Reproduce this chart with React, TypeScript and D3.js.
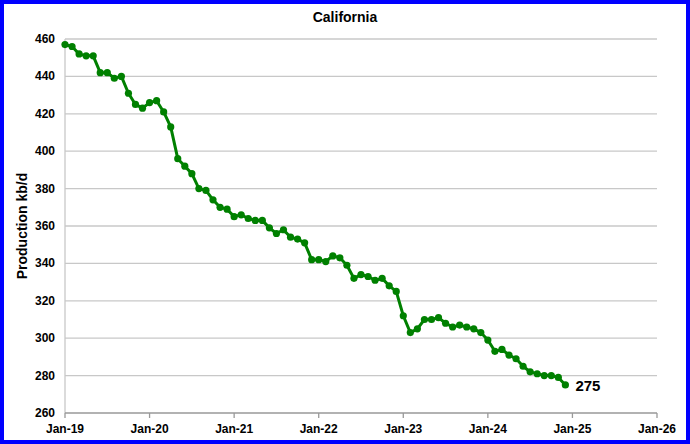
import React from "react";
import * as d3 from "d3";

const startYear = 2019;
const production: number[] = [
  457, 456, 452, 451, 451, 442, 442, 439, 440, 431, 425, 423,
  426, 427, 421, 413, 396, 392, 388, 380, 379, 374, 370, 369,
  365, 366, 364, 363, 363, 359, 356, 358, 354, 353, 351, 342,
  342, 341, 344, 343, 339, 332, 334, 333, 331, 332, 328, 325,
  312, 303, 305, 310, 310, 311, 308, 306, 307, 306, 305, 303,
  299, 293, 294, 291, 289, 285, 282, 281, 280, 280, 279, 275,
];
const yTicks = [260, 280, 300, 320, 340, 360, 380, 400, 420, 440, 460];
const xTickLabels = ["Jan-19", "Jan-20", "Jan-21", "Jan-22", "Jan-23", "Jan-24", "Jan-25", "Jan-26"];
const title = "California";
const yLabel = "Production kb/d";
const lastLabel = "275";

const W = 690, H = 444;
const left = 65, right = 657, top = 39, bottom = 413;
const font = "'Liberation Sans', Arial, sans-serif";

export default function App() {
  const x = d3.scaleLinear().domain([0, 84]).range([left, right]);
  const y = d3.scaleLinear().domain([260, 460]).range([bottom, top]);
  const line = d3.line<number>().x((_, i) => x(i)).y((d) => y(d));
  const last = production.length - 1;
  return (
    <svg width={W} height={H} style={{ position: "absolute", left: 0, top: 0 }}>
      <rect x={0} y={0} width={W} height={H} fill="#fff" />
      <rect x={2} y={2} width={W - 4} height={H - 4} fill="none" stroke="#0000ff" strokeWidth={4} />
      <text x={345} y={22} textAnchor="middle" fontFamily={font} fontWeight="bold" fontSize={14}>{title}</text>
      {yTicks.map((t) => (
        <g key={t}>
          {t !== 260 && <line x1={left} x2={right} y1={y(t)} y2={y(t)} stroke="#c8c8c8" strokeWidth={1.3} />}
          <text x={left - 10} y={y(t) + 4} textAnchor="end" fontFamily={font} fontWeight="bold" fontSize={12}>{t}</text>
        </g>
      ))}
      <line x1={left} x2={left} y1={top} y2={bottom} stroke="#c8c8c8" strokeWidth={1.3} />
      <line x1={left} x2={right} y1={bottom} y2={bottom} stroke="#999" strokeWidth={1.3} />
      {xTickLabels.map((l, i) => (
        <g key={l}>
          <line x1={x(i * 12)} x2={x(i * 12)} y1={bottom} y2={bottom + 5} stroke="#999" strokeWidth={1.3} />
          <text x={x(i * 12)} y={bottom + 20} textAnchor="middle" fontFamily={font} fontWeight="bold" fontSize={12}>{l}</text>
        </g>
      ))}
      <text transform={`translate(27,${(top + bottom) / 2}) rotate(-90)`} textAnchor="middle" fontFamily={font} fontWeight="bold" fontSize={14}>{yLabel}</text>
      <path d={line(production) || ""} fill="none" stroke="#008000" strokeWidth={3} strokeLinejoin="round" />
      {production.map((v, i) => (
        <circle key={i} cx={x(i)} cy={y(v)} r={3.6} fill="#008000" />
      ))}
      <text x={x(last) + 10} y={y(production[last]) + 6} fontFamily={font} fontWeight="bold" fontSize={15}>{lastLabel}</text>
    </svg>
  );
}
